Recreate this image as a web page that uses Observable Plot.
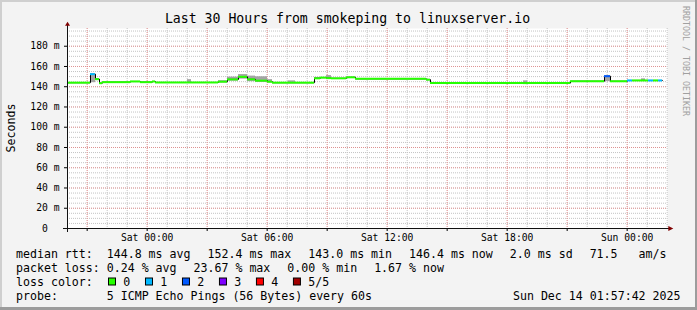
<!DOCTYPE html>
<html><head><meta charset="utf-8">
<script src="https://cdn.jsdelivr.net/npm/d3@7"></script>
<script src="https://cdn.jsdelivr.net/npm/@observablehq/plot@0.6"></script>
<style>
html,body{margin:0;padding:0;background:#f3f3f3;}
#chart svg text{white-space:pre;}
</style></head><body><div id="chart"></div>
<script>
// ---- data ----
const titleText = "Last 30 Hours from smokeping to linuxserver.io";
const xDomain = ["2025-12-12T20:01Z", "2025-12-14T02:01Z"];
const yDomain = [0, 197.5];
const yTicks = [20, 40, 60, 80, 100, 120, 140, 160, 180];
const segStart = [
  "2025-12-12T20:01Z","2025-12-12T21:10Z","2025-12-12T21:25Z","2025-12-12T21:37Z","2025-12-12T21:46Z",
  "2025-12-12T23:10Z","2025-12-12T23:40Z","2025-12-13T00:16Z","2025-12-13T00:25Z","2025-12-13T02:01Z",
  "2025-12-13T02:13Z","2025-12-13T03:34Z","2025-12-13T04:01Z","2025-12-13T04:34Z","2025-12-13T05:01Z",
  "2025-12-13T05:25Z","2025-12-13T06:01Z","2025-12-13T06:16Z","2025-12-13T07:04Z","2025-12-13T07:25Z",
  "2025-12-13T08:22Z","2025-12-13T08:40Z","2025-12-13T08:58Z","2025-12-13T09:13Z","2025-12-13T09:58Z",
  "2025-12-13T10:25Z","2025-12-13T13:58Z","2025-12-13T14:10Z","2025-12-13T18:49Z","2025-12-13T19:01Z",
  "2025-12-13T21:10Z","2025-12-13T22:52Z","2025-12-13T23:10Z","2025-12-14T00:01Z","2025-12-14T00:16Z",
  "2025-12-14T00:43Z","2025-12-14T00:55Z","2025-12-14T01:04Z","2025-12-14T01:19Z","2025-12-14T01:34Z"
];
const dataEnd = "2025-12-14T01:46Z";
const segMedian = [
  144.0, 152.4, 147.5, 143.5, 144.5,
  145.2, 144.5, 145.2, 144.2, 144.2,
  144.2, 145.0, 147.2, 149.8, 147.3,
  146.0, 145.0, 144.0, 144.0, 144.0,
  148.3, 149.0, 148.5, 148.3, 149.3,
  147.8, 147.0, 143.6, 143.6, 143.6,
  145.4, 150.4, 145.4, 146.2, 146.2,
  146.2, 146.2, 146.2, 146.2, 146.2
];
const segLoss = [
  0, 1, 0, 0, 0,
  0, 0, 0, 0, 0,
  0, 0, 0, 0, 0,
  0, 0, 0, 0, 0,
  0, 0, 0, 0, 0,
  0, 0, 0, 0, 0,
  0, 2, 0, 1, 0,
  0, 0, 1, 0, 1
];
const smokeLo = [
  null, 144.0, 146.0, null, null,
  null, null, null, null, 143.5,
  null, 144.0, 145.5, 147.5, 145.0,
  144.5, 144.0, null, 143.5, null,
  147.5, null, 147.5, null, null,
  null, null, null, 143.0, null,
  null, 145.0, null, null, null,
  145.5, null, null, null, null
];
const smokeHi = [
  null, 152.4, 148.0, null, null,
  null, null, null, null, 147.0,
  null, 146.0, 149.5, 152.0, 150.5,
  149.8, 147.0, null, 145.8, null,
  149.2, null, 151.0, null, null,
  null, null, null, 145.8, null,
  null, 150.4, null, null, null,
  147.8, null, null, null, null
];
const lossLabels = ["0", "1", "2", "3", "4", "5/5"];
const lossColors = ["#26ff00", "#00b8ff", "#0059ff", "#7e00ff", "#ff0000", "#a10000"];
const medianItems = ["median rtt:  144.8 ms avg", "152.4 ms max", "143.0 ms min", "146.4 ms now", "2.0 ms sd", "71.5   am/s"];
const lossItems = ["packet loss: 0.24 % avg", "23.67 % max", "0.00 % min", "1.67 % now"];
const probeText = "probe:       5 ICMP Echo Pings (56 Bytes) every 60s";
const dateText = "Sun Dec 14 01:57:42 2025";
const yLabel = "Seconds";
const watermark = "RRDTOOL / TOBI OETIKER";

// ---- build ----
const x0 = new Date(xDomain[0]), x1 = new Date(xDomain[1]);
const segs = segStart.map((s, i) => ({
  start: new Date(s),
  end: new Date(i + 1 < segStart.length ? segStart[i + 1] : dataEnd),
  median: segMedian[i], loss: segLoss[i], lo: smokeLo[i], hi: smokeHi[i]
}));
const stepPts = segs.map(d => ({t: d.start, v: d.median}))
  .concat([{t: new Date(dataEnd), v: segMedian[segMedian.length - 1]}]);
const hourTicks = d3.utcHour.range(x0, x1);
const major3 = hourTicks.filter(d => d.getUTCHours() % 3 === 0);
const labelTicks = hourTicks.filter(d => d.getUTCHours() % 6 === 0);
const yMinor = d3.range(5, 200, 5);
const FONT = "DejaVu Sans Mono";

const chart = Plot.plot({
  width: 697, height: 310,
  marginLeft: 67, marginRight: 30, marginTop: 28, marginBottom: 82,
  style: {background: "#f3f3f3", fontFamily: FONT, fontSize: "9.7px", color: "#000", overflow: "visible"},
  x: {type: "utc", domain: [x0, x1]},
  y: {domain: yDomain},
  marks: [
    Plot.frame({fill: "#ffffff", stroke: null}),
    Plot.gridY(yMinor, {stroke: "#c4c4c4", strokeOpacity: 1, strokeDasharray: "1,1"}),
    Plot.gridX(hourTicks, {stroke: "#c4c4c4", strokeOpacity: 1, strokeDasharray: "1,1"}),
    Plot.gridY(yTicks, {stroke: "#ee7070", strokeOpacity: 0.6, strokeDasharray: "1,1"}),
    Plot.gridX(major3, {stroke: "#ff7070", strokeOpacity: 0.6, strokeDasharray: "1,1"}),
    Plot.rect(segs.filter(d => d.lo != null), {x1: "start", x2: "end", y1: "lo", y2: "hi", fill: "#a4a4a4"}),
    Plot.line(stepPts, {x: "t", y: "v", curve: "step-after", stroke: "#000", strokeWidth: 1}),
    Plot.ruleY(segs, {y: "median", x1: "start", x2: "end", stroke: d => lossColors[d.loss], strokeWidth: 2}),
    Plot.axisY(yTicks, {tickSize: 3, tickPadding: 5, tickFormat: d => d + " m", label: null}),
    Plot.axisY([0], {tickSize: 3, tickPadding: 5 + 11.6, tickFormat: () => "0", label: null}),
    Plot.axisX(major3, {tickSize: 3, tickFormat: () => "", label: null}),
    Plot.axisX(labelTicks, {tickSize: 0, tickPadding: 6, tickFormat: d3.utcFormat("%a %H:%M"), label: null})
  ]
});
document.getElementById("chart").append(chart);

// ---- decorations: axes lines, arrows, titles, legend ----
const svg = d3.select(chart);
const sx = chart.scale("x"), sy = chart.scale("y");
const L = sx.apply(x0), R = sx.apply(x1), B = sy.apply(0), T = sy.apply(yDomain[1]);
const g = svg.append("g").attr("text-anchor", "start");
g.append("line").attr("x1", L - 4).attr("x2", R + 2).attr("y1", B + 0.5).attr("y2", B + 0.5)
  .attr("stroke", "#111").attr("stroke-width", 1);
g.append("line").attr("x1", L + 0.5).attr("x2", L + 0.5).attr("y1", B + 4).attr("y2", T - 3)
  .attr("stroke", "#111").attr("stroke-width", 1);
g.append("polygon").attr("points", `${R + 1.3},${B - 2} ${R + 6.3},${B + 0.5} ${R + 1.3},${B + 3}`).attr("fill", "#800000");
g.append("polygon").attr("points", `${L - 2},${T - 2.3} ${L + 0.5},${T - 6.3} ${L + 3},${T - 2.3}`).attr("fill", "#800000");

// 3D frame
g.append("rect").attr("x", 0).attr("y", 0).attr("width", 697).attr("height", 2).attr("fill", "#cfcfcf");
g.append("rect").attr("x", 0).attr("y", 0).attr("width", 2).attr("height", 310).attr("fill", "#cfcfcf");
g.append("rect").attr("x", 0).attr("y", 307).attr("width", 697).attr("height", 3).attr("fill", "#9c9c9c");
g.append("rect").attr("x", 695).attr("y", 0).attr("width", 2).attr("height", 310).attr("fill", "#9c9c9c");

const txt = (x, y, s, size, anchor = "start", fill = "#000") =>
  g.append("text").attr("x", x).attr("y", y).attr("font-family", FONT).attr("font-size", size)
    .attr("text-anchor", anchor).attr("fill", fill).attr("xml:space", "preserve").text(s);

txt(347.5, 23.3, titleText, "13.2px", "middle");
g.append("text").attr("transform", `translate(14.5,${(B + T) / 2}) rotate(-90)`)
  .attr("font-family", FONT).attr("font-size", "11.6px").attr("text-anchor", "middle").text(yLabel);
g.append("text").attr("transform", "translate(682.5,6) rotate(90)").attr("text-anchor", "start")
  .attr("font-family", FONT).attr("font-size", "8.3px").attr("fill", "#a0a0a0").text(watermark);

const GAP = 17;
function placeItems(items, y) {
  let x = 16;
  for (const s of items) {
    const t = txt(x, y, s, "11.6px");
    x += t.node().getComputedTextLength() + GAP;
  }
}
placeItems(medianItems, 258.3);
placeItems(lossItems, 272.3);
txt(16, 286.3, "loss color:", "11.6px");
let bx = 108.5;
lossLabels.forEach((lab, i) => {
  g.append("rect").attr("x", bx).attr("y", 278).attr("width", 7).attr("height", 7)
    .attr("fill", lossColors[i]).attr("stroke", "#000").attr("stroke-width", 1);
  const t = txt(bx + 14.8, 286.3, lab, "11.6px");
  bx += 14.8 + t.node().getComputedTextLength() + 15.2;
});
txt(16, 300.3, probeText, "11.6px");
txt(680.5, 300.3, dateText, "11.6px", "end");
</script></body></html>
